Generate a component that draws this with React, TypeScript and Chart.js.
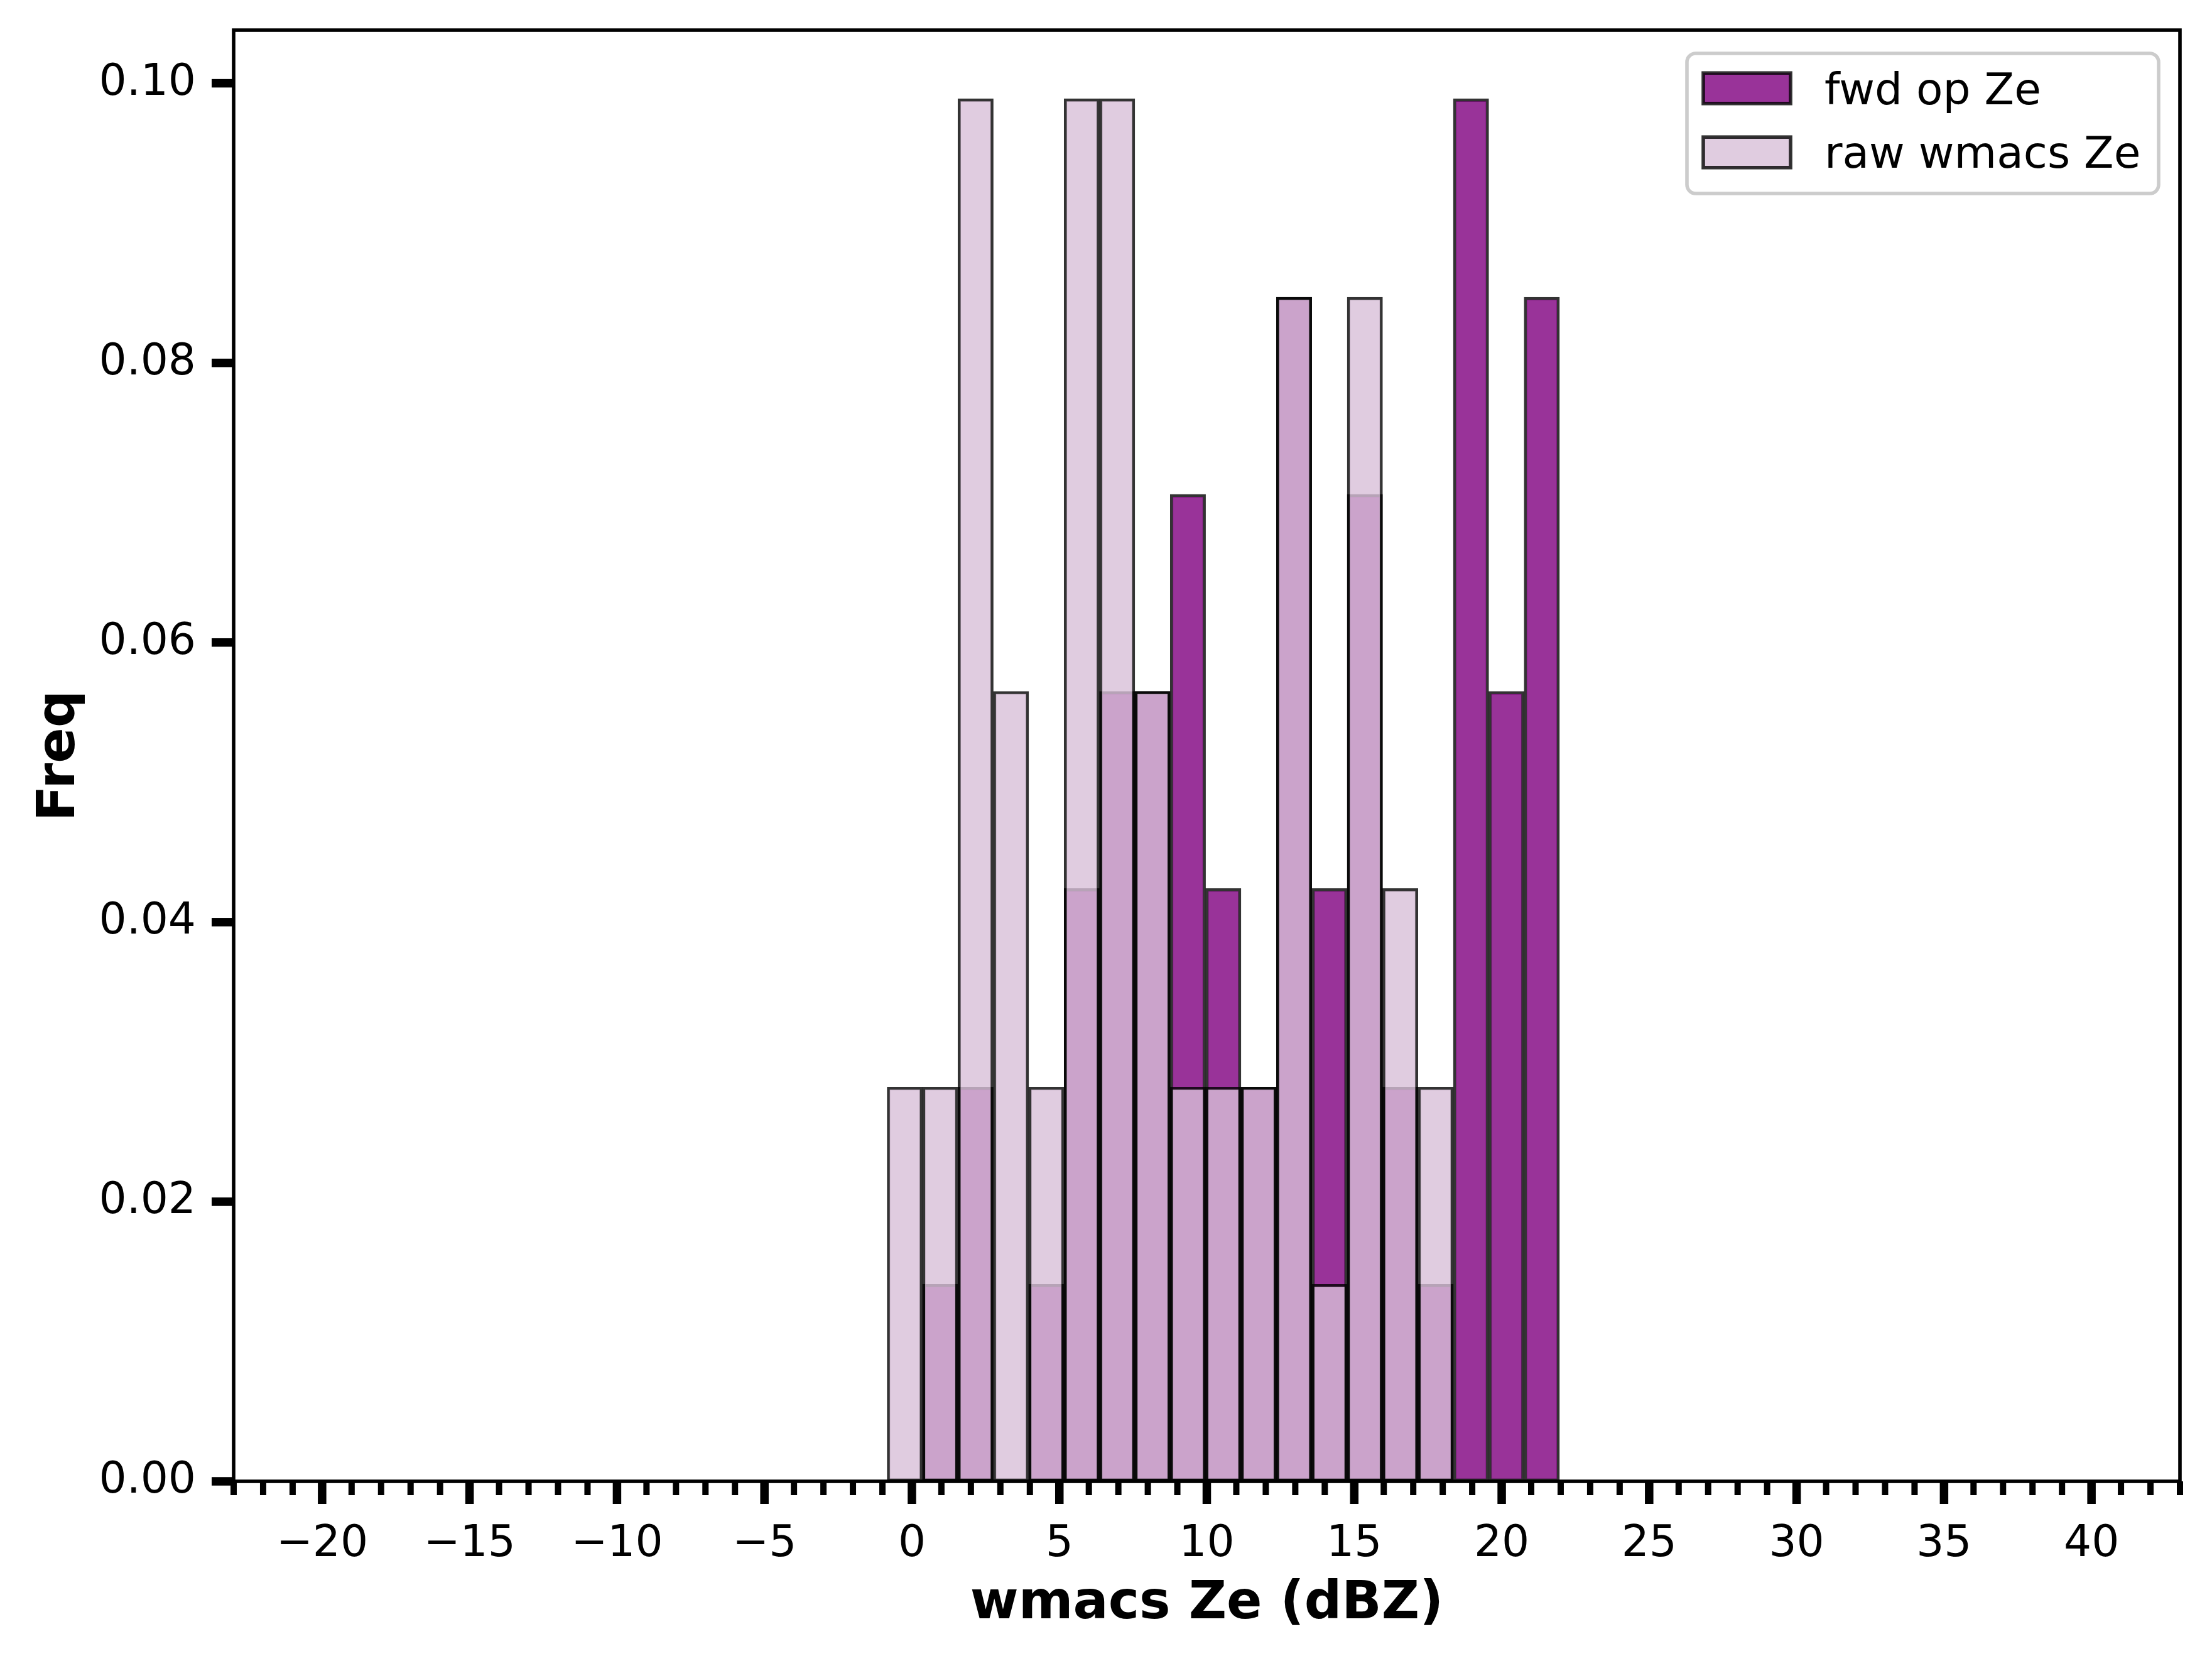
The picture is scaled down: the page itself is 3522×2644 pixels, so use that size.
import { useEffect, useRef } from 'react';
import { Chart, registerables } from 'chart.js';

Chart.register(...registerables);

// histogram bins (dBZ), bin width ~1.2
const binCenters = [-0.24, 0.96, 2.16, 3.36, 4.56, 5.76, 6.96, 8.16, 9.36, 10.56, 11.76, 12.96, 14.16, 15.36, 16.56, 17.76, 18.96, 20.16, 21.36];
const fwdOpZe = [0, 0.0141, 0.0282, 0, 0.0141, 0.0424, 0.0565, 0.0565, 0.0706, 0.0424, 0.0282, 0.0847, 0.0424, 0.0706, 0.0282, 0.0141, 0.0989, 0.0565, 0.0847];
const rawWmacsZe = [0.0282, 0.0282, 0.0989, 0.0565, 0.0282, 0.0989, 0.0989, 0.0565, 0.0282, 0.0282, 0.0282, 0.0847, 0.0141, 0.0847, 0.0424, 0.0282, 0, 0, 0];

const xTickValues = [-20, -15, -10, -5, 0, 5, 10, 15, 20, 25, 30, 35, 40];
const yTickValues = [0, 0.02, 0.04, 0.06, 0.08, 0.1];

const W = 3522;
const H = 2644;
const PLOT = { left: 372, right: 3471, top: 48, bottom: 2358 };
const FONT = '"DejaVu Sans", Verdana, sans-serif';
const TICK_SIZE = 69.4;
const TITLE_SIZE = 83.3;

const fwdFill = 'rgba(128, 0, 128, 0.8)';
const rawFill = 'rgba(216, 191, 216, 0.8)';
const edge = 'rgba(0, 0, 0, 0.8)';

const minus = (v: number) => (v < 0 ? '\u2212' + Math.abs(v) : String(v));

// spines + outward ticks, matplotlib style
const framePlugin = {
  id: 'mplFrame',
  afterDatasetsDraw(chart: any) {
    const { ctx, chartArea: a, scales } = chart;
    const x = scales.x;
    const y = scales.y;
    ctx.save();
    ctx.fillStyle = '#000';
    for (let v = -23; v <= 43; v++) {
      const px = x.getPixelForValue(v);
      ctx.fillRect(px - 5, a.bottom, 10, 22);
    }
    xTickValues.forEach((v) => {
      const px = x.getPixelForValue(v);
      ctx.fillRect(px - 6.75, a.bottom, 13.5, 36);
    });
    yTickValues.forEach((v) => {
      const py = y.getPixelForValue(v);
      ctx.fillRect(a.left - 35, py - 6.75, 35, 13.5);
    });
    ctx.lineWidth = 5.6;
    ctx.strokeStyle = '#000';
    ctx.strokeRect(a.left, a.top, a.right - a.left, a.bottom - a.top);
    ctx.restore();
  },
};

const legendPlugin = {
  id: 'mplLegend',
  afterDraw(chart: any) {
    const { ctx, chartArea: a } = chart;
    const boxRight = a.right - 34;
    const boxLeft = boxRight - 751;
    const boxTop = a.top + 37;
    ctx.save();
    ctx.beginPath();
    ctx.roundRect(boxLeft, boxTop, 751, 223, 14);
    ctx.fillStyle = 'rgba(255, 255, 255, 0.8)';
    ctx.fill();
    ctx.lineWidth = 5.6;
    ctx.strokeStyle = '#cccccc';
    ctx.stroke();

    const rows = [
      { label: 'fwd op Ze', fill: fwdFill, cy: boxTop + 55.5, base: boxTop + 81 },
      { label: 'raw wmacs Ze', fill: rawFill, cy: boxTop + 157.5, base: boxTop + 182 },
    ];
    ctx.font = `${TICK_SIZE}px ${FONT}`;
    ctx.textAlign = 'left';
    ctx.textBaseline = 'alphabetic';
    rows.forEach((r) => {
      const hx = boxLeft + 26;
      ctx.fillStyle = '#fff';
      ctx.fillRect(hx, r.cy - 24.3, 139, 48.6);
      ctx.fillStyle = r.fill;
      ctx.fillRect(hx, r.cy - 24.3, 139, 48.6);
      ctx.lineWidth = 5.6;
      ctx.strokeStyle = edge;
      ctx.strokeRect(hx, r.cy - 24.3, 139, 48.6);
      ctx.fillStyle = '#000';
      ctx.fillText(r.label, hx + 139 + 54, r.base);
    });
    ctx.restore();
  },
};

export default function App() {
  const canvasRef = useRef<HTMLCanvasElement>(null);

  useEffect(() => {
    document.body.style.margin = '0';
    if (!canvasRef.current) return;

    const chart = new Chart(canvasRef.current, {
      type: 'bar',
      data: {
        datasets: [
          {
            label: 'fwd op Ze',
            data: binCenters.map((c, i) => ({ x: c, y: fwdOpZe[i] })),
            backgroundColor: fwdFill,
            borderColor: edge,
            borderWidth: 4.5,
            borderSkipped: false,
            grouped: false,
            categoryPercentage: 1,
            barPercentage: 1,
            order: 1,
          },
          {
            label: 'raw wmacs Ze',
            data: binCenters.map((c, i) => ({ x: c, y: rawWmacsZe[i] })),
            backgroundColor: rawFill,
            borderColor: edge,
            borderWidth: 4.5,
            borderSkipped: false,
            grouped: false,
            categoryPercentage: 1,
            barPercentage: 1,
            order: 0,
          },
        ],
      } as any,
      options: {
        responsive: false,
        animation: false,
        layout: { padding: { left: 0, top: PLOT.top, right: W - PLOT.right, bottom: 0 } },
        plugins: {
          legend: { display: false },
          tooltip: { enabled: false },
        },
        scales: {
          x: {
            type: 'linear',
            min: -23,
            max: 43,
            offset: false,
            grid: { display: false, drawTicks: false },
            border: { display: false },
            afterBuildTicks: (s: any) => { s.ticks = xTickValues.map((value) => ({ value })); },
            afterFit: (s: any) => {
              s.height = H - PLOT.bottom;
              s.paddingLeft = 0;
              s.paddingRight = 0;
            },
            ticks: {
              autoSkip: false,
              maxRotation: 0,
              minRotation: 0,
              padding: 59,
              color: '#000',
              font: { family: FONT, size: TICK_SIZE },
              callback: (v: any) => minus(Number(v)),
            },
            title: {
              display: true,
              text: 'wmacs Ze (dBZ)',
              color: '#000',
              font: { family: FONT, size: TITLE_SIZE, weight: 'bold' },
              padding: { top: 0, bottom: 40 },
            },
          },
          y: {
            type: 'linear',
            min: 0,
            max: 0.1038,
            grid: { display: false, drawTicks: false },
            border: { display: false },
            afterBuildTicks: (s: any) => { s.ticks = yTickValues.map((value) => ({ value })); },
            afterFit: (s: any) => {
              s.width = PLOT.left;
              s.paddingTop = 0;
              s.paddingBottom = 0;
            },
            ticks: {
              padding: 60,
              color: '#000',
              font: { family: FONT, size: TICK_SIZE },
              callback: (v: any) => Number(v).toFixed(2),
            },
            title: {
              display: true,
              text: 'Freq',
              color: '#000',
              font: { family: FONT, size: TITLE_SIZE, weight: 'bold' },
              padding: { top: 46, bottom: 0 },
            },
          },
        },
      } as any,
      plugins: [framePlugin, legendPlugin],
    });

    return () => {
      chart.destroy();
    };
  }, []);

  return (
    <div style={{ width: W, height: H, background: '#fff' }}>
      <canvas ref={canvasRef} width={W} height={H} style={{ display: 'block', width: W, height: H }} />
    </div>
  );
}
